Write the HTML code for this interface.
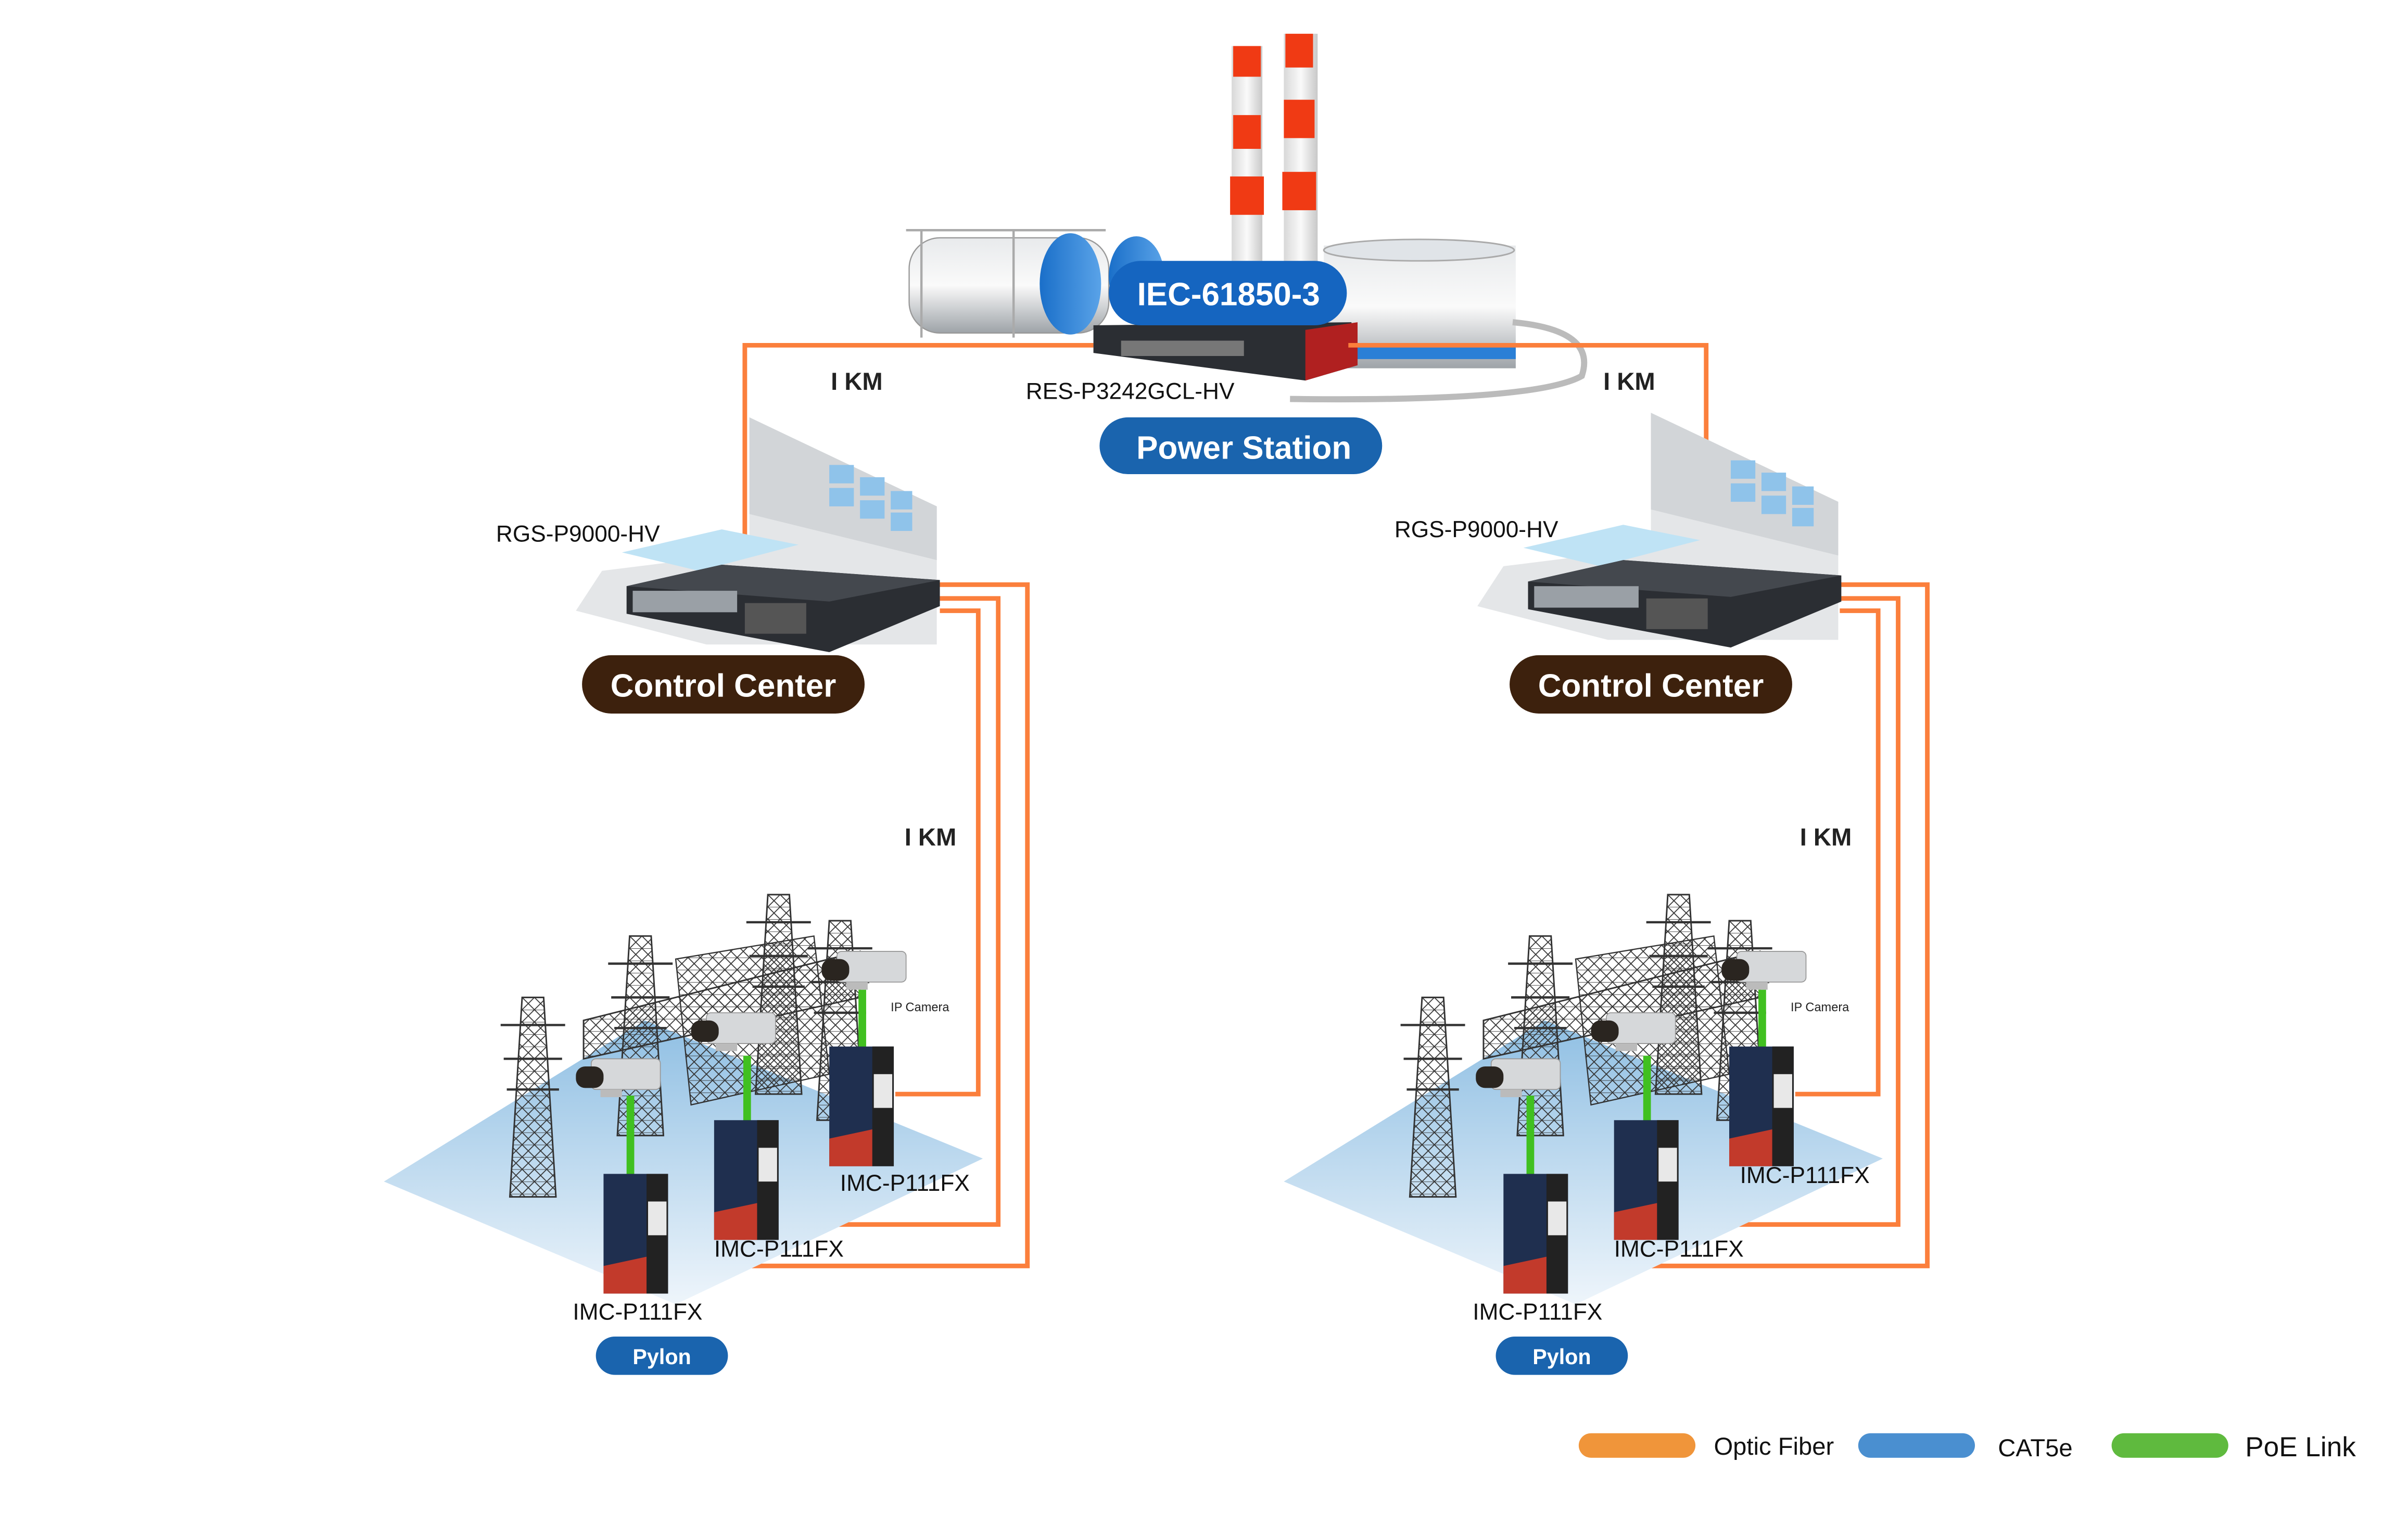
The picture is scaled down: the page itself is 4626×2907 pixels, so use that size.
<!DOCTYPE html>
<html><head><meta charset="utf-8"><style>
html,body{margin:0;padding:0;background:#fff}
svg{display:block}
text{font-family:"Liberation Sans",Arial,sans-serif}
</style></head><body>
<svg width="4626" height="2907" viewBox="0 0 1568 986" preserveAspectRatio="none" xmlns="http://www.w3.org/2000/svg">
<defs>
<linearGradient id="plat" x1="0" y1="0" x2="0" y2="1"><stop offset="0" stop-color="#8fbfe3"/><stop offset="1" stop-color="#eef5fb"/></linearGradient>
<linearGradient id="tank" x1="0" y1="0" x2="0" y2="1"><stop offset="0" stop-color="#e8eaec"/><stop offset=".5" stop-color="#fafafa"/><stop offset="1" stop-color="#9ea3a8"/></linearGradient>
<linearGradient id="chim" x1="0" y1="0" x2="1" y2="0"><stop offset="0" stop-color="#d8d8d8"/><stop offset=".5" stop-color="#fafafa"/><stop offset="1" stop-color="#c8c8c8"/></linearGradient>
<linearGradient id="blu" x1="0" y1="0" x2="1" y2="0"><stop offset="0" stop-color="#1a6fc9"/><stop offset="1" stop-color="#5aa3e8"/></linearGradient>
<pattern id="lat" width="8" height="8" patternUnits="userSpaceOnUse"><path d="M0 0L8 8M8 0L0 8M0 0H8" stroke="#333" stroke-width=".6" fill="none"/></pattern>
<g id="cc">
 <polygon points="488,272 610,330 610,420 460,420 375,398 392,372 488,360" fill="#e4e6e8"/>
 <polygon points="488,272 610,330 610,365 488,335" fill="#d2d5d8"/>
 <g fill="#8fc3ea"><rect x="540" y="303" width="16" height="12"/><rect x="560" y="311" width="16" height="12"/><rect x="540" y="318" width="16" height="12"/><rect x="560" y="326" width="16" height="12"/><rect x="580" y="320" width="14" height="12"/><rect x="580" y="334" width="14" height="12"/></g>
 <polygon points="405,360 470,345 520,355 455,372" fill="#bfe3f5"/>
 <polygon points="408,382 470,368 612,378 612,395 540,425 408,400" fill="#2b2e33"/>
 <polygon points="470,368 612,378 540,392 408,382" fill="#44484e"/>
 <rect x="412" y="385" width="68" height="14" fill="#9aa0a6"/>
 <rect x="485" y="393" width="40" height="20" fill="#555"/>
</g>
<g id="tw">
 <polygon points="0,0 14,0 22,130 -8,130" fill="url(#lat)" stroke="#333" stroke-width="1"/>
 <path d="M-14 18H28M-12 40H26M-10 60H24" stroke="#333" stroke-width="1.5"/>
</g>
<g id="cam">
 <rect x="0" y="0" width="45" height="20" rx="3" fill="#d6d8da" stroke="#999" stroke-width=".6"/>
 <rect x="-10" y="5" width="18" height="14" rx="6" fill="#2a2520"/>
 <rect x="6" y="20" width="14" height="5" fill="#bbb"/>
</g>
<g id="imc">
 <rect x="0" y="0" width="42" height="78" fill="#1f2f4f"/>
 <rect x="28" y="0" width="14" height="78" fill="#222"/>
 <path d="M0 60 L28 54 L28 78 L0 78Z" fill="#c23a2b"/>
 <rect x="29" y="18" width="12" height="22" fill="#e8e8e8"/>
</g>
<g id="pyl">
 <polygon points="250,770 420,665 640,755 440,850" fill="url(#plat)"/>
 <use href="#tw" x="340" y="650"/>
 <use href="#tw" x="410" y="610"/>
 <use href="#tw" x="500" y="583"/>
 <use href="#tw" x="540" y="600"/>
 <polygon points="380,665 560,620 560,650 380,690" fill="url(#lat)" stroke="#333" stroke-width="1"/>
 <polygon points="440,625 530,610 540,700 450,720" fill="url(#lat)" stroke="#333" stroke-width=".8"/>
 <rect x="408" y="714" width="5" height="55" fill="#40c020"/>
 <rect x="484" y="688" width="5" height="45" fill="#40c020"/>
 <rect x="559" y="645" width="5" height="40" fill="#40c020"/>
 <use href="#cam" x="385" y="690"/>
 <use href="#cam" x="460" y="660"/>
 <use href="#cam" x="545" y="620"/>
 <use href="#imc" x="393" y="765"/>
 <use href="#imc" x="465" y="730"/>
 <use href="#imc" x="540" y="682"/>
</g>
</defs>

<!-- power station -->
<rect x="802" y="30" width="20" height="140" fill="url(#chim)"/>
<g fill="#f03a14"><rect x="803" y="30" width="18" height="20"/><rect x="803" y="75" width="18" height="22"/><rect x="801" y="115" width="22" height="25"/></g>
<rect x="836" y="22" width="22" height="150" fill="url(#chim)"/>
<g fill="#f03a14"><rect x="837" y="22" width="18" height="22"/><rect x="836" y="65" width="20" height="25"/><rect x="835" y="112" width="22" height="25"/></g>
<rect x="592" y="155" width="130" height="62" rx="20" fill="url(#tank)" stroke="#999" stroke-width=".8"/>
<path d="M590 150H720M600 150V220M660 150V220" stroke="#aaa" stroke-width="1.5"/>
<ellipse cx="697" cy="185" rx="20" ry="33" fill="url(#blu)"/>
<ellipse cx="740" cy="180" rx="18" ry="26" fill="url(#blu)"/>
<rect x="862" y="160" width="125" height="80" fill="url(#tank)"/>
<ellipse cx="924" cy="163" rx="62" ry="7" fill="#e0e4e8" stroke="#aaa"/>
<rect x="862" y="226" width="125" height="8" fill="#2a7fd6"/>
<path d="M985 210 Q1040 215 1030 245 Q1000 262 840 260" stroke="#bbb" stroke-width="4" fill="none"/>
<polygon points="712,212 880,210 884,238 850,248 712,230" fill="#2b2e33"/>
<polygon points="850,215 884,210 884,238 850,248" fill="#b02020"/>
<rect x="730" y="222" width="80" height="10" fill="#777"/>

<!-- orange fiber -->
<g stroke="#fb7f3c" stroke-width="3" fill="none">
<path d="M712 225H485V372"/>
<path d="M878 225H1111V372"/>
<path d="M612 381H669V825H437"/>
<path d="M612 390H650V798H505"/>
<path d="M612 398H637V713H583"/>
<path d="M1198 381H1255V825H1023"/>
<path d="M1198 390H1236V798H1091"/>
<path d="M1198 398H1223V713H1169"/>
</g>

<use href="#cc"/>
<use href="#cc" x="587" y="-3"/>
<use href="#pyl"/>
<use href="#pyl" x="586" y="0"/>

<!-- pills -->
<rect x="722" y="170" width="155" height="42" rx="21" fill="#1565c0"/>
<text x="800" y="199" font-size="21" font-weight="bold" fill="#fff" text-anchor="middle">IEC-61850-3</text>
<rect x="716" y="272" width="184" height="37" rx="18.5" fill="#1a64ae"/>
<text x="810" y="299" font-size="21" font-weight="bold" fill="#fff" text-anchor="middle">Power Station</text>
<rect x="379" y="427" width="184" height="38" rx="19" fill="#3d210d"/>
<text x="471" y="454" font-size="21" font-weight="bold" fill="#fff" text-anchor="middle">Control Center</text>
<rect x="983" y="427" width="184" height="38" rx="19" fill="#3d210d"/>
<text x="1075" y="454" font-size="21" font-weight="bold" fill="#fff" text-anchor="middle">Control Center</text>
<rect x="388" y="871" width="86" height="25" rx="12.5" fill="#1a64ae"/>
<text x="431" y="889" font-size="14" font-weight="bold" fill="#fff" text-anchor="middle">Pylon</text>
<rect x="974" y="871" width="86" height="25" rx="12.5" fill="#1a64ae"/>
<text x="1017" y="889" font-size="14" font-weight="bold" fill="#fff" text-anchor="middle">Pylon</text>

<!-- labels -->
<g font-size="15" fill="#111">
<text x="668" y="260">RES-P3242GCL-HV</text>
<text x="323" y="353">RGS-P9000-HV</text>
<text x="908" y="350">RGS-P9000-HV</text>
<text x="547" y="776">IMC-P111FX</text>
<text x="465" y="819">IMC-P111FX</text>
<text x="373" y="860">IMC-P111FX</text>
<text x="1133" y="771">IMC-P111FX</text>
<text x="1051" y="819">IMC-P111FX</text>
<text x="959" y="860">IMC-P111FX</text>
</g>
<g font-size="16" font-weight="bold" fill="#222">
<text x="541" y="254">I KM</text>
<text x="1044" y="254">I KM</text>
<text x="589" y="551">I KM</text>
<text x="1172" y="551">I KM</text>
</g>
<text x="580" y="659" font-size="8" fill="#222">IP Camera</text>
<text x="1166" y="659" font-size="8" fill="#222">IP Camera</text>

<!-- legend -->
<rect x="1028" y="934" width="76" height="16" rx="8" fill="#f0953a"/>
<rect x="1210" y="934" width="76" height="16" rx="8" fill="#4a8fd0"/>
<rect x="1375" y="934" width="76" height="16" rx="8" fill="#5fba3e"/>
<g font-size="16" fill="#111">
<text x="1116" y="948">Optic Fiber</text>
<text x="1301" y="949">CAT5e</text>
<text x="1462" y="949" font-size="18">PoE Link</text>
</g>
</svg>
</body></html>
